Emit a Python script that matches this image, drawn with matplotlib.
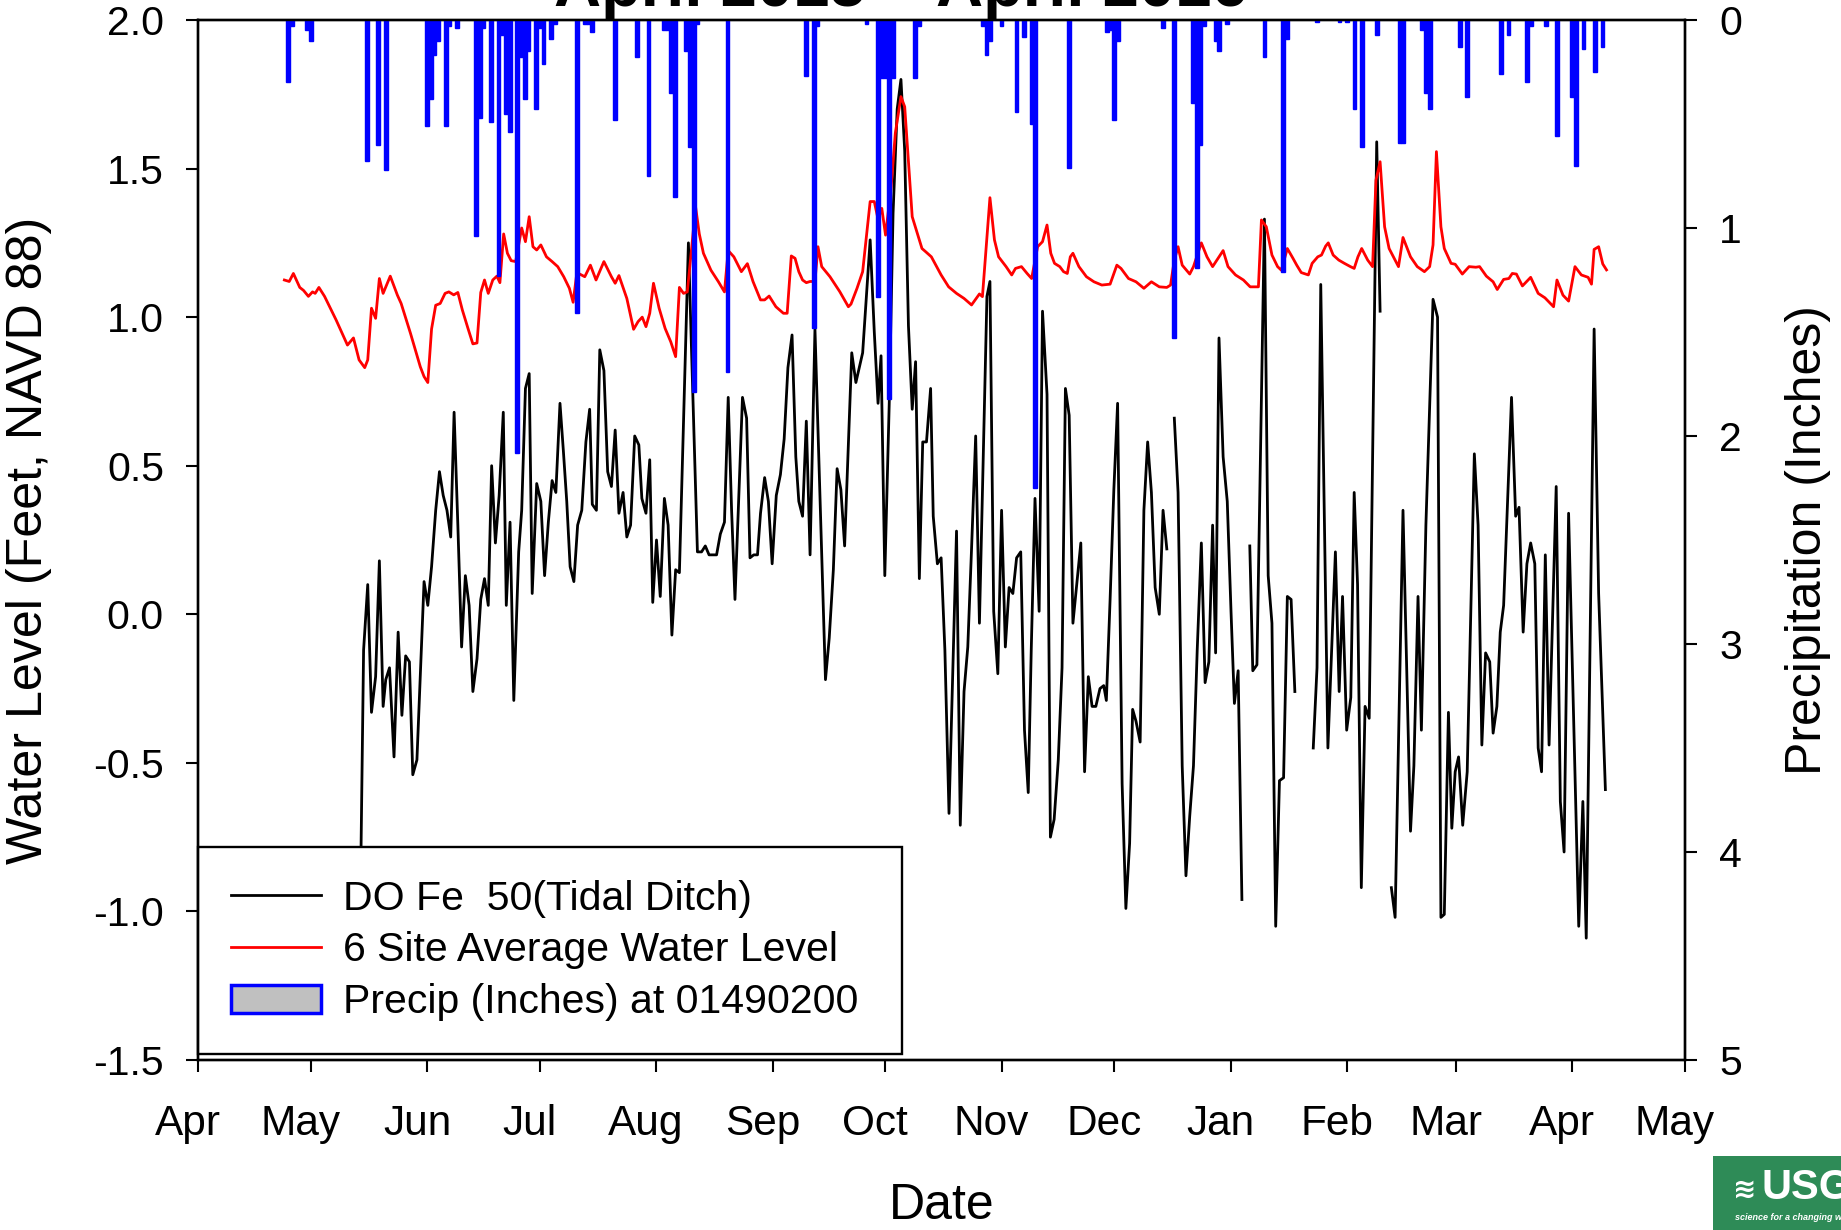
import datetime as dt
import numpy as np
import matplotlib
matplotlib.use("Agg")
import matplotlib.pyplot as plt
import matplotlib.dates as mdates
from matplotlib.lines import Line2D
from matplotlib.patches import Patch, Rectangle
from matplotlib.ticker import FixedLocator, FixedFormatter
from matplotlib.transforms import ScaledTranslation

plt.rcParams['font.family'] = ['Liberation Sans', 'DejaVu Sans']
plt.rcParams['axes.unicode_minus'] = False

# ---------------- data (x = days since 2015-04-01) ----------------
START = dt.datetime(2015, 4, 1)
END = dt.datetime(2016, 5, 1)

# DO Fe 50 (Tidal Ditch) water level, ft NAVD88 (None = gap in record)
do_days = [43.0, 44.1, 45.2, 46.2, 47.3, 48.3, 49.3, 50.0, 51.0, 52.2, 53.3, 54.3, 55.3, 56.3, 57.2, 58.3,
           60.2, 61.2, 62.2, 63.3, 64.3, 65.3, 66.3, 67.3, 68.2, 69.2, 70.2, 71.2, 72.2, 73.2, 74.3, 75.3,
           76.3, 77.3, 78.2, 79.2, 80.2, 81.3, 82.1, 83.1, 84.1, 85.4, 86.2, 87.2, 88.2, 89.0, 90.2, 91.3,
           92.3, 93.3, 94.3, 95.3, 96.4, 97.3, 98.2, 99.1, 100.1, 101.1, 102.2, 103.3, 104.3, 105.0, 106.1,
           107.0, 108.1, 109.1, 110.1, 111.1, 112.1, 113.2, 114.2, 115.2, 116.3, 117.4, 118.2, 119.3, 120.3,
           121.1, 122.1, 123.1, 124.2, 125.2, 126.2, 127.2, 128.2, 130.6, 133.0, 134.1, 135.1, 136.1, 137.1,
           138.1, 139.1, 140.2, 141.2, 142.1, 143.0, 145.0, 146.1, 147.0, 148.0, 149.0, 149.8, 150.9, 151.9,
           152.9, 154.0, 155.1, 156.1, 157.1, 158.2, 159.2, 160.0, 161.0, 162.0, 163.0, 164.3, 167.1, 168.1,
           169.2, 170.2, 171.2, 172.2, 174.1, 175.2, 177.0, 179.0, 180.1, 181.1, 181.9, 182.9, 184.1, 185.1,
           186.2, 187.2, 188.2, 189.2, 190.2, 191.1, 192.1, 193.0, 194.0, 195.1, 195.8, 196.9, 197.9, 198.9,
           200.0, 202.0, 203.0, 204.0, 205.0, 206.0, 207.1, 208.1, 210.1, 210.9, 211.9, 213.0, 214.0, 215.0,
           216.0, 217.0, 218.0, 219.1, 220.1, 221.1, 221.9, 222.9, 224.0, 224.9, 226.1, 227.0, 228.0, 229.1,
           230.1, 231.0, 232.0, 233.0, 234.0, 235.1, 236.1, 237.1, 238.1, 239.1, 240.2, 241.2, 241.9, 242.9,
           243.9, 244.9, 246.1, 247.1, 248.1, 248.9, 249.8, 250.9, 251.9, 252.9, 253.9, 254.9, 256.0, 257.0,
           258.0, 259.0,
           260.0, 261.0, 262.1, 263.1, 264.1, 265.1, 266.1, 267.2, 268.2, 269.2, 270.2, 271.0, 271.9, 273.0,
           274.1, 275.1, 276.0, 277.0, 278.0, 279.0,
           280.1, 280.9, 282.0, 284.0, 285.0, 286.0, 287.0, 288.0, 289.1, 290.1, 291.1, 292.1, 294.0,
           297.0, 298.0, 299.0, 300.9, 302.9, 303.9, 304.8, 305.9, 307.0, 307.9, 308.8, 309.8, 310.8, 311.9,
           313.9, 314.8, 316.0,
           317.8, 318.8, 320.9, 322.9, 323.8, 324.9, 325.8, 327.0, 328.9, 330.1, 331.0, 331.9, 333.0, 333.9,
           334.8, 335.7, 336.8, 338.0, 339.9, 340.9, 341.9, 342.9, 344.0, 344.9, 345.9, 346.8, 347.7, 349.8,
           350.9, 351.8, 352.9, 353.9, 354.9, 356.0, 356.9, 357.8, 358.8, 359.8, 361.7, 362.8, 363.8, 365.0,
           367.7, 368.8, 369.7, 371.8, 373.0, 374.8]
do_vals = [-1.20, -0.12, 0.10, -0.33, -0.21, 0.18, -0.31, -0.22, -0.18, -0.48, -0.06, -0.34, -0.14, -0.16, -0.54, -0.49,
           0.11, 0.03, 0.16, 0.35, 0.48, 0.40, 0.35, 0.26, 0.68, 0.30, -0.11, 0.13, 0.03, -0.26, -0.15, 0.05,
           0.12, 0.03, 0.50, 0.24, 0.40, 0.68, 0.03, 0.31, -0.29, 0.21, 0.35, 0.76, 0.81, 0.07, 0.44, 0.38,
           0.13, 0.31, 0.45, 0.41, 0.71, 0.55, 0.38, 0.16, 0.11, 0.30, 0.35, 0.58, 0.69, 0.37, 0.35,
           0.89, 0.82, 0.48, 0.43, 0.62, 0.34, 0.41, 0.26, 0.30, 0.60, 0.57, 0.39, 0.34, 0.52,
           0.04, 0.25, 0.06, 0.39, 0.30, -0.07, 0.15, 0.14, 1.25, 0.21, 0.21, 0.23, 0.20, 0.20,
           0.20, 0.27, 0.31, 0.73, 0.35, 0.05, 0.73, 0.66, 0.19, 0.20, 0.20, 0.34, 0.46, 0.38,
           0.17, 0.40, 0.47, 0.59, 0.83, 0.94, 0.53, 0.38, 0.33, 0.65, 0.20, 0.96, -0.22, -0.08,
           0.15, 0.49, 0.42, 0.23, 0.88, 0.78, 0.88, 1.26, 0.95, 0.71, 0.87, 0.13, 0.72, 1.35,
           1.70, 1.80, 1.56, 0.97, 0.69, 0.85, 0.12, 0.58, 0.58, 0.76, 0.33, 0.17, 0.19, -0.12,
           -0.67, 0.28, -0.71, -0.26, -0.11, 0.22, 0.60, -0.03, 1.07, 1.12, 0.01, -0.20, 0.35, -0.11,
           0.09, 0.07, 0.19, 0.21, -0.39, -0.60, -0.12, 0.39, 0.01, 1.02, 0.74, -0.75, -0.69, -0.49,
           -0.18, 0.76, 0.67, -0.03, 0.10, 0.24, -0.53, -0.21, -0.31, -0.31, -0.25, -0.24, -0.29, 0.05,
           0.42, 0.71, -0.57, -0.99, -0.77, -0.32, -0.36, -0.43, 0.35, 0.58, 0.41, 0.09, 0.00, 0.35,
           0.22, None,
           0.66, 0.41, -0.51, -0.88, -0.68, -0.51, -0.12, 0.24, -0.23, -0.16, 0.30, -0.13, 0.93, 0.53,
           0.38, 0.01, -0.30, -0.19, -0.96, None,
           0.23, -0.19, -0.17, 1.33, 0.13, -0.03, -1.05, -0.56, -0.55, 0.06, 0.05, -0.26, None,
           -0.45, -0.18, 1.11, -0.45, 0.21, -0.26, 0.06, -0.39, -0.28, 0.41, 0.10, -0.92, -0.31, -0.35,
           1.59, 1.02, None,
           -0.92, -1.02, 0.35, -0.73, -0.51, 0.06, -0.39, 0.30, 1.06, 1.00, -1.02, -1.01, -0.33, -0.72,
           -0.53, -0.48, -0.71, -0.53, 0.54, 0.30, -0.44, -0.13, -0.16, -0.40, -0.31, -0.06, 0.03, 0.73,
           0.33, 0.36, -0.06, 0.17, 0.24, 0.17, -0.45, -0.53, 0.20, -0.44, 0.43, -0.63, -0.80, 0.34,
           -1.05, -0.63, -1.09, 0.96, 0.07, -0.59]

# 6 site average water level, ft NAVD88
avg_days = [23.0, 24.3, 25.4, 27.1, 28.1, 29.4, 30.5, 31.2, 32.2, 33.7, 36.8, 39.8, 41.4, 42.9, 44.4, 45.2,
            46.2, 47.3, 48.3, 49.3, 51.2, 53.1, 54.1, 56.6, 59.2, 60.2, 61.2, 62.2, 63.3, 64.5, 65.8, 66.8,
            68.1, 69.2, 70.4, 71.9, 73.2, 74.3, 75.3, 76.3, 77.3, 78.5, 79.6, 80.4, 81.4, 82.4, 83.4, 84.6,
            86.2, 87.2, 88.2, 89.2, 90.2, 91.3, 92.8, 94.3, 95.8, 97.4, 98.9, 99.9, 100.9, 103.0, 104.5,
            106.0, 108.1, 110.1, 111.1, 112.1, 114.2, 116.0, 117.2, 118.3, 119.3, 120.3, 121.3, 122.8, 124.4,
            125.9, 127.2, 128.2, 129.3, 130.3, 131.5, 132.5, 133.5, 134.6, 136.6, 138.6, 140.2, 141.2, 142.7,
            144.7, 146.3, 147.8, 149.8, 150.9, 152.1, 153.9, 155.9, 156.9, 158.0, 159.0, 160.0, 161.0, 162.0,
            163.0, 164.3, 165.1, 166.1, 168.3, 170.9, 173.2, 173.9, 175.5, 177.0, 179.0, 180.1, 181.1, 182.1,
            183.1, 184.6, 185.7, 187.2, 188.2, 190.2, 192.8, 193.8, 195.3, 197.9, 199.9, 202.0, 204.0, 206.0,
            208.1, 208.9, 210.9, 212.1, 213.2, 215.2, 216.7, 217.7, 219.3, 220.8, 222.0, 223.6, 224.9, 226.1,
            227.1, 228.1, 229.5, 230.5, 231.5, 232.3, 233.0, 234.6, 236.6, 238.6, 240.7, 242.9, 244.7, 245.8,
            247.8, 249.8, 251.9, 253.9, 256.0, 258.0, 259.0, 260.0, 261.0, 262.1, 264.1, 265.1, 267.2, 268.7,
            270.2, 273.0, 274.3, 276.3, 278.4, 280.2, 282.4, 283.2, 284.5, 286.0, 287.5, 288.5, 290.1, 291.6,
            292.6, 293.8, 295.7, 296.7, 298.2, 299.2, 300.3, 301.0, 302.3, 303.8, 305.3, 306.9, 307.9, 308.9,
            309.9, 311.5, 312.8, 313.7, 314.8, 316.0, 317.2, 319.7, 320.9, 322.9, 324.7, 326.6, 328.0, 328.9,
            329.8, 331.0, 331.9, 333.7, 334.8, 336.7, 338.5, 340.3, 341.3, 343.1, 344.9, 346.0, 347.7, 349.1,
            350.0, 351.1, 352.7, 354.9, 356.9, 358.7, 361.0, 361.9, 363.5, 365.0, 366.7, 368.4, 370.2, 371.1,
            371.8, 373.0, 374.1, 375.1]
avg_vals = [1.125, 1.12, 1.147, 1.10, 1.09, 1.07, 1.085, 1.08, 1.10, 1.07, 0.99, 0.906, 0.93, 0.856, 0.83, 0.856,
            1.03, 0.996, 1.13, 1.08, 1.138, 1.074, 1.046, 0.945, 0.833, 0.80, 0.78, 0.96, 1.04, 1.046, 1.08, 1.085,
            1.075, 1.083, 1.024, 0.962, 0.91, 0.913, 1.083, 1.125, 1.08, 1.125, 1.138, 1.116, 1.28, 1.215, 1.19, 1.187,
            1.30, 1.254, 1.338, 1.237, 1.226, 1.243, 1.203, 1.187, 1.17, 1.136, 1.097, 1.05, 1.15, 1.136, 1.175,
            1.125, 1.187, 1.136, 1.114, 1.14, 1.063, 0.959, 0.985, 1.00, 0.968, 1.013, 1.114, 1.03, 0.962,
            0.917, 0.867, 1.10, 1.08, 1.085, 1.237, 1.372, 1.28, 1.215, 1.158, 1.119, 1.085, 1.224, 1.203,
            1.153, 1.18, 1.12, 1.058, 1.058, 1.071, 1.035, 1.013, 1.013, 1.206, 1.198, 1.153, 1.125, 1.116,
            1.12, 1.12, 1.237, 1.17, 1.136, 1.086, 1.035, 1.044, 1.097, 1.153, 1.389, 1.389, 1.33, 1.366,
            1.276, 1.439, 1.619, 1.742, 1.708, 1.338, 1.231, 1.22, 1.203, 1.142, 1.102, 1.08, 1.063, 1.041,
            1.078, 1.069, 1.402, 1.26, 1.203, 1.17, 1.142, 1.164, 1.17, 1.147, 1.13, 1.237, 1.254, 1.31,
            1.215, 1.181, 1.17, 1.153, 1.147, 1.203, 1.215, 1.17, 1.136, 1.119, 1.108, 1.111, 1.175, 1.164,
            1.13, 1.119, 1.097, 1.119, 1.102, 1.10, 1.108, 1.192, 1.237, 1.175, 1.145, 1.17, 1.25, 1.203,
            1.17, 1.224, 1.17, 1.142, 1.125, 1.102, 1.102, 1.327, 1.304, 1.209, 1.17, 1.158, 1.231, 1.198,
            1.175, 1.15, 1.142, 1.181, 1.203, 1.209, 1.239, 1.25, 1.209, 1.192, 1.181, 1.17, 1.164, 1.203,
            1.231, 1.192, 1.17, 1.461, 1.523, 1.304, 1.231, 1.17, 1.268, 1.203, 1.17, 1.153, 1.17, 1.243,
            1.557, 1.304, 1.231, 1.181, 1.178, 1.145, 1.17, 1.168, 1.17, 1.138, 1.119, 1.093, 1.127, 1.13,
            1.147, 1.145, 1.105, 1.134, 1.08, 1.065, 1.035, 1.125, 1.074, 1.054, 1.17, 1.142, 1.134, 1.111,
            1.228, 1.237, 1.179, 1.159]

# Daily precipitation (inches) at 01490200
precip_days = [24, 25, 29, 30, 45, 48, 50, 61, 62, 63, 64, 66, 67, 69,
               74, 75, 76, 78, 80, 81, 82, 83, 85, 86, 87, 88, 90, 91, 92, 94, 95,
               101, 103, 104, 105, 111, 117, 120, 124, 125, 126, 127, 130, 131, 132, 133, 141,
               162, 164, 165, 178, 181, 182, 183, 184, 185, 191, 192, 209, 210, 211, 214, 218, 220,
               222, 223, 232, 242, 243, 244, 245, 257, 260, 265, 266, 267, 268, 271, 272, 274, 284,
               289, 290, 298, 304, 306, 308, 310, 314, 320, 321, 326, 327, 328, 336, 338, 347, 349,
               354, 355, 359, 362, 366, 367, 369, 372, 374]
precip_in = [0.30, 0.03, 0.05, 0.10, 0.68, 0.60, 0.72, 0.51, 0.38, 0.17, 0.10, 0.51, 0.03, 0.04,
             1.04, 0.47, 0.04, 0.49, 1.23, 0.07, 0.45, 0.54, 2.08, 0.18, 0.38, 0.15, 0.43, 0.04, 0.21, 0.09, 0.02,
             1.41, 0.02, 0.02, 0.06, 0.48, 0.18, 0.75, 0.05, 0.05, 0.35, 0.85, 0.15, 0.61, 1.79, 0.02, 1.69,
             0.27, 1.48, 0.03, 0.02, 1.33, 0.28, 0.28, 1.82, 0.28, 0.28, 0.03, 0.03, 0.17, 0.10, 0.03, 0.44, 0.08,
             0.50, 2.25, 0.71, 0.06, 0.05, 0.48, 0.10, 0.04, 1.53, 0.40, 1.19, 0.60, 0.03, 0.10, 0.15, 0.02, 0.18,
             1.21, 0.09, 0.01, 0.01, 0.01, 0.43, 0.61, 0.07, 0.59, 0.59, 0.05, 0.35, 0.43, 0.13, 0.37, 0.26, 0.07,
             0.30, 0.03, 0.03, 0.56, 0.37, 0.70, 0.14, 0.25, 0.13]

month_starts = [(2015, 4), (2015, 5), (2015, 6), (2015, 7), (2015, 8), (2015, 9), (2015, 10),
                (2015, 11), (2015, 12), (2016, 1), (2016, 2), (2016, 3), (2016, 4), (2016, 5)]
month_labels = ['Apr', 'May', 'Jun', 'Jul', 'Aug', 'Sep', 'Oct', 'Nov', 'Dec', 'Jan', 'Feb', 'Mar', 'Apr', 'May']
left_ticks = [-1.5, -1.0, -0.5, 0.0, 0.5, 1.0, 1.5, 2.0]
right_ticks = [0, 1, 2, 3, 4, 5]

series_labels = ['DO Fe  50(Tidal Ditch)', '6 Site Average Water Level', 'Precip (Inches) at 01490200']
title_text = 'April 2015 \u2013 April 2016'

# ---------------- figure ----------------
W, H = 1841, 1230
fig = plt.figure(figsize=(W / 100, H / 100), dpi=100)
ax = fig.add_axes([198 / W, 1 - 1060 / H, 1487 / W, 1040 / H])
ax2 = ax.twinx()

x0 = mdates.date2num(START)
do_x = x0 + np.array(do_days)
do_y = np.array([np.nan if v is None else v for v in do_vals], dtype=float)
ax.plot(do_x, do_y, color='black', lw=2.0, zorder=2)
ax.plot(x0 + np.array(avg_days), avg_vals, color='red', lw=2.0, zorder=2)
ax2.bar(x0 + np.array(precip_days), precip_in, width=1.0, color='#0000ff',
        edgecolor='#0000ff', linewidth=1.0, align='center')

ax.set_xlim(mdates.date2num(START), mdates.date2num(END))
ax.set_ylim(-1.5, 2.0)
ax2.set_ylim(5, 0)

mticks = [mdates.date2num(dt.datetime(y, m, 1)) for y, m in month_starts]
ax.xaxis.set_major_locator(FixedLocator(mticks))
ax.xaxis.set_major_formatter(FixedFormatter(month_labels))
ax.yaxis.set_major_locator(FixedLocator(left_ticks))
ax.yaxis.set_major_formatter(FixedFormatter(['%.1f' % t for t in left_ticks]))
ax2.yaxis.set_major_locator(FixedLocator(right_ticks))
ax2.yaxis.set_major_formatter(FixedFormatter([str(t) for t in right_ticks]))

ax.tick_params(axis='x', direction='out', length=8.5, width=1.5, labelsize=30.5, pad=23)
ax.tick_params(axis='y', direction='out', length=8.5, width=1.5, labelsize=29.5, pad=16)
ax2.tick_params(axis='y', direction='out', length=8.5, width=1.5, labelsize=29.5, pad=16)
for a in (ax, ax2):
    for s in a.spines.values():
        s.set_linewidth(1.7)

# month labels sit slightly left of their ticks in the source
shift = ScaledTranslation(-10 / 100, 0, fig.dpi_scale_trans)
for tk in ax.xaxis.get_major_ticks():
    tk.label1.set_transform(tk.label1.get_transform() + shift)

ax.set_xlabel('Date', fontsize=36, va='center')
ax.xaxis.set_label_coords(0.5, -0.1404)
ax.set_ylabel('Water Level (Feet, NAVD 88)', fontsize=36.2, va='center')
ax.yaxis.set_label_coords(-0.1137, 0.5)
ax2.set_ylabel('Precipitation (Inches)', fontsize=36, va='center', rotation=90)
ax2.yaxis.set_label_coords(1.0827, 0.5)

handles = [Line2D([], [], color='black', lw=2.0),
           Line2D([], [], color='red', lw=2.0),
           Patch(facecolor='#c0c0c0', edgecolor='#0000ff', linewidth=2.5)]
leg = ax.legend(handles, series_labels, loc='lower left',
                bbox_to_anchor=(0, 0.0058, 600 / 1267, 0.2), mode='expand',
                borderaxespad=0, fontsize=29.5, frameon=True, fancybox=False,
                edgecolor='black', facecolor='white', framealpha=1, handlelength=2.2,
                handletextpad=0.55, labelspacing=0.335, borderpad=0.8)
leg.get_frame().set_linewidth(1.7)
leg.set_zorder(10)

# title (clipped at the top of the image, as in the source)
fig.text(901 / W, 1 - 6 / H, title_text, ha='center', va='baseline',
         fontsize=47, fontweight='bold')

# USGS logo block (bottom-right, partly cut off)
fig.patches.append(Rectangle((1713 / W, 0), 140 / W, 74 / H, transform=fig.transFigure,
                             facecolor='#2e8b57', edgecolor='none'))
fig.text(1733 / W, 1 - 1190 / H, '\u224b', color='white', fontsize=20, fontweight='bold',
         ha='left', va='center', family=['DejaVu Sans'])
fig.text(1762 / W, 1 - 1188 / H, 'USGS', color='white', fontsize=30, fontweight='bold',
         ha='left', va='center')
fig.text(1735 / W, 1 - 1217 / H, 'science for a changing world', color='white', fontsize=6.5,
         fontstyle='italic', fontweight='bold', ha='left', va='center')

fig.savefig('out.png', dpi=100)
